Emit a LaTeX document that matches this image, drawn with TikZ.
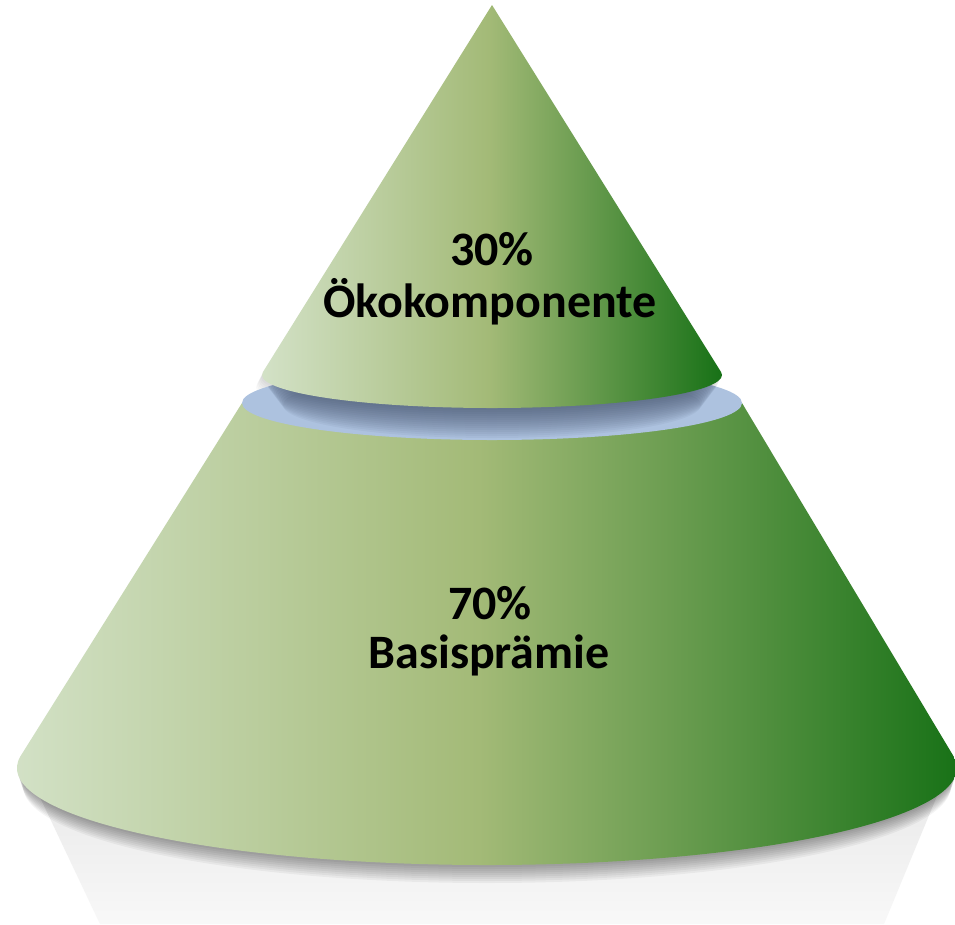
\documentclass[tikz,border=0pt]{standalone}
\usepackage{fontspec}
\setmainfont{Carlito}
\usetikzlibrary{calc}
\definecolor{gL}{HTML}{D5E3CA}
\definecolor{gM}{HTML}{A3BA77}
\definecolor{gR}{HTML}{157015}
\definecolor{diskL}{HTML}{ADC2DF}
\definecolor{diskD}{HTML}{3A4862}
\definecolor{reflT}{HTML}{E6E6E6}
\definecolor{reflB}{HTML}{F8F8F8}
\pgfdeclarehorizontalshading{conegrad}{100bp}{color(0bp)=(gL); color(25bp)=(gL); color(50bp)=(gM); color(75bp)=(gR); color(100bp)=(gR)}
\pgfdeclareverticalshading{reflgrad}{100bp}{color(0bp)=(reflB); color(25bp)=(reflB); color(75bp)=(reflT); color(100bp)=(reflT)}
\tikzset{
  toppathins/.style={insert path={(492,5) -- (262.9,372.07) arc[start angle=185.1,end angle=-5.1,x radius=230,y radius=33] -- cycle}},
  lbl/.style={font=\fontsize{48}{52}\selectfont\bfseries, text=black, inner sep=0pt, anchor=base}
}
\begin{document}
\begin{tikzpicture}[x=1pt,y=-1pt]
\useasboundingbox (0,0) rectangle (955,924);
\clip (0,0) rectangle (955,924);
\fill[white] (0,0) rectangle (955,924);
\coordinate (cT) at (492,375);
\coordinate (cD) at (492,403);
\coordinate (cB) at (487,768);
\coordinate (apex) at (492,5);
\coordinate (dL) at (242,403);
\coordinate (dR) at (742,403);
\coordinate (bL) at (20.5,756.18);
\coordinate (bR) at (953.5,756.18);
\coordinate (rL) at (100,924);
\coordinate (rR) at (884,924);
% reflection
\shade[shading=reflgrad] (bL) -- (rL) -- (rR) -- (bR) -- cycle;
% shadow under base
\foreach \d in {2,4,...,18}
  \fill[black,opacity=0.045] (487,768+\d) ellipse[x radius=470-\d/3, y radius=97];
% lower cone
\shade[shading=conegrad] (dL) -- (bL) arc[start angle=187,end angle=-7,x radius=470,y radius=97] -- (bR) -- (dR) -- cycle;
% soft shadow of the top cone
\foreach \i in {2,4,...,12}
  \fill[black,opacity=0.025,shift={(-\i/2,\i)},toppathins];
% disk
\fill[diskL] (cD) ellipse[x radius=250,y radius=37];
\begin{scope}
  \clip (cD) ellipse[x radius=250,y radius=37];
  \foreach \d in {0,2,...,30}
    \fill[diskD,opacity=0.06] (492,375+\d) ellipse[x radius=232-\d/1.3, y radius=33];
\end{scope}
% top cone
\shade[shading=conegrad,toppathins];
% labels
\node[lbl] (p30) at (492,265) {30\%};
\node[lbl] (oeko) at (490,317) {Ökokomponente};
\node[lbl] (p70) at (490,619) {70\%};
\node[lbl] (basis) at (489,668) {Basisprämie};
\end{tikzpicture}
\end{document}
